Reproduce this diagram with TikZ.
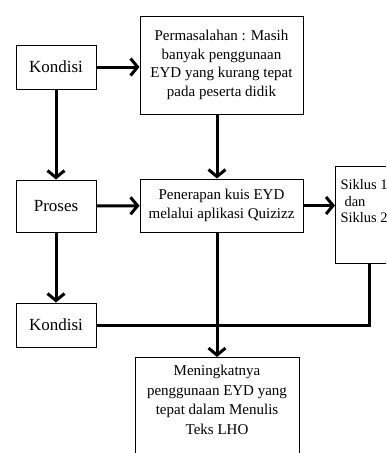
\documentclass[tikz,border=0pt]{standalone}
\usepackage{fontspec}
\setmainfont{Liberation Serif}
\usetikzlibrary{arrows.meta}

\begin{document}
\begin{tikzpicture}[x=1pt,y=-1pt,
	box/.style={draw, line width=1pt, align=center, inner sep=2pt, font=\fontsize{15}{18.5}\selectfont},
	bigtxt/.style={font=\fontsize{17}{20}\selectfont},
	flow/.style={line width=3pt, -{Straight Barb[length=7pt,width=17pt,line width=3pt]}},
	link/.style={line width=3pt}]
	 \clip (0,0) rectangle (386,453);
	 \useasboundingbox (0,0) rectangle (386,453);
	 \node[box, bigtxt, minimum width=80pt, minimum height=44pt] (kond1) at (56,67) {Kondisi};
	 \node[box, minimum width=163pt, minimum height=98pt] (masalah) at (221.5,65) {Permasalahan : Masih\\banyak penggunaan\\EYD yang kurang tepat\\pada peserta didik};
	 \node[box, bigtxt, minimum width=80pt, minimum height=52pt] (proses) at (56,206) {Proses};
	 \node[box, minimum width=163pt, minimum height=53pt] (terapan) at (221.5,205.5) {Penerapan kuis EYD\\melalui aplikasi Quizizz};
	 \node[box, minimum width=74pt, minimum height=97pt, anchor=north west,
	       label={[anchor=north west, align=left, font=\fontsize{14.5}{16.5}\selectfont, xshift=2pt, yshift=-10pt]north west:Siklus 1\\\hspace{4pt}dan\\Siklus 2}] (siklus) at (335,166) {};
	 \node[box, bigtxt, minimum width=80pt, minimum height=44pt] (kond2) at (56,325) {Kondisi};
	 \node[box, minimum width=164pt, minimum height=120pt, anchor=north,
	       label={[anchor=north, align=center, font=\fontsize{15}{19.5}\selectfont, yshift=-5pt]north:Meningkatnya\\penggunaan EYD yang\\tepat dalam Menulis\\Teks LHO}] (hasil) at (217,357) {};
	 %arrows
	 \draw[flow] (kond1.east) -- (kond1.east -| masalah.west);
	 \draw[flow] (kond1) -- (proses);
	 \draw[flow] (masalah.south -| hasil) -- (terapan.north -| hasil);
	 \draw[flow] (proses) -- (terapan);
	 \draw[flow] (terapan.east) -- (terapan.east -| siklus.west);
	 \draw[flow] (proses) -- (kond2);
	 \draw[flow] (terapan.south -| hasil) -- (hasil);
	 \draw[link] (kond2.east) -| ([xshift=-3pt]siklus.south);
\end{tikzpicture}
\end{document}
